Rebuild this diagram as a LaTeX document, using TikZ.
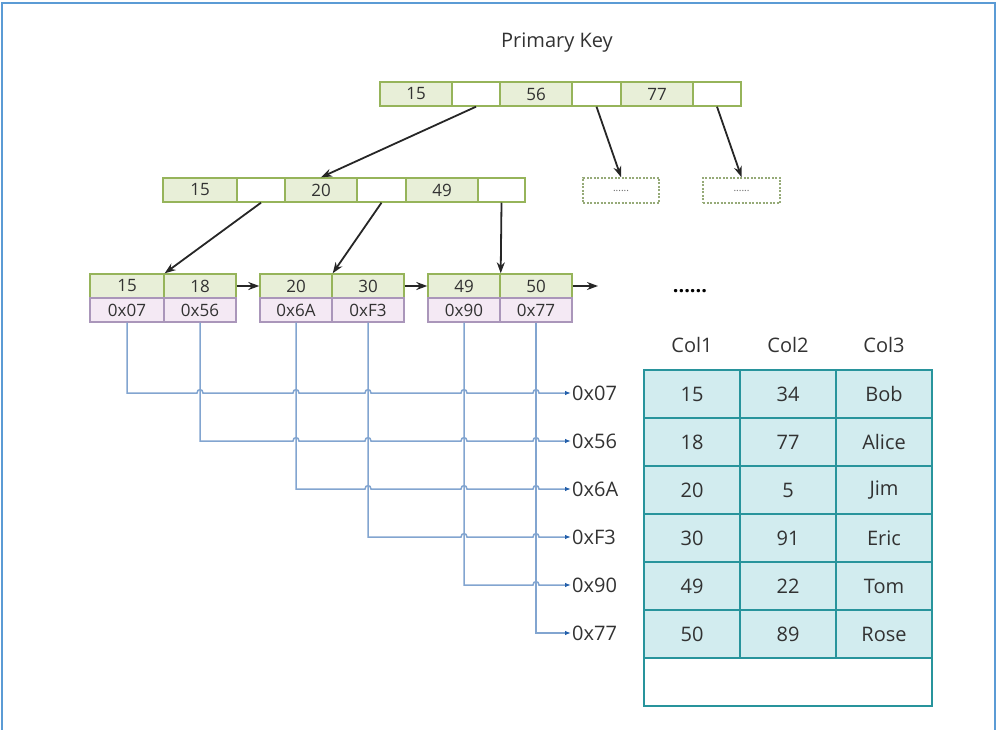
\documentclass[tikz,border=0pt]{standalone}
\usepackage{fontspec}
\setmainfont{Open Sans}
\usetikzlibrary{arrows.meta}
\definecolor{txt}{RGB}{50,50,50}
\definecolor{kfill}{RGB}{232,239,216}
\definecolor{kborder}{RGB}{150,180,90}
\definecolor{afill}{RGB}{244,233,244}
\definecolor{aborder}{RGB}{170,150,186}
\definecolor{tfill}{RGB}{210,236,239}
\definecolor{tborder}{RGB}{40,148,156}
\definecolor{aline}{RGB}{130,165,208}
\definecolor{ahead}{RGB}{35,95,170}
\definecolor{dcol}{RGB}{150,170,120}
\definecolor{framecol}{RGB}{91,155,213}
\begin{document}
\begin{tikzpicture}[x=1pt,y=-1pt,
  cellbase/.style={minimum height=24pt, inner sep=0pt, line width=1.4pt, font=\fontsize{17}{19}\selectfont, text=txt},
  kcell/.style={cellbase, draw=kborder, fill=kfill},
  pcell/.style={cellbase, draw=kborder, fill=white},
  acell/.style={cellbase, draw=aborder, fill=afill},
  tcell/.style={minimum width=96pt, minimum height=48pt, draw=tborder, fill=tfill, line width=2.4pt, inner sep=0pt, font=\fontsize{20}{23}\selectfont, text=txt},
  dbox/.style={draw=dcol, dash pattern=on 2pt off 1.5pt, line width=1.6pt, minimum height=25pt, inner sep=0pt, font=\fontsize{10}{11}\selectfont, text=black!60},
  tarrow/.style={-{Stealth[length=11pt,width=8pt]}, line width=1.8pt, draw=black!85},
  addr/.style={draw=aline, line width=1.5pt, -{Latex[length=6pt,width=4.5pt,color=ahead]}},
  lbl/.style={anchor=west, inner sep=1pt, font=\fontsize{20}{23}\selectfont, text=txt},
  hdr/.style={font=\fontsize{20}{23}\selectfont, text=txt, inner sep=0pt}]
\useasboundingbox (0,0) rectangle (998,730);
\draw[framecol, line width=2pt] (2,730) -- (2,3) -- (995,3) -- (995,730);

\node[hdr] (pk) at (557,43) {Primary Key};

% root
\node[kcell, minimum width=72pt] (r1) at (416,94) {15};
\node[pcell, minimum width=48pt] (r2) at (476,94) {};
\node[kcell, minimum width=72pt] (r3) at (536,94) {56};
\node[pcell, minimum width=49pt] (r4) at (596.5,94) {};
\node[kcell, minimum width=72pt] (r5) at (657,94) {77};
\node[pcell, minimum width=48pt] (r6) at (717,94) {};

% level 2
\node[kcell, minimum width=74pt] (m1) at (200,190) {15};
\node[pcell, minimum width=48pt] (m2) at (261,190) {};
\node[kcell, minimum width=72pt] (m3) at (321,190) {20};
\node[pcell, minimum width=49pt] (m4) at (381.5,190) {};
\node[kcell, minimum width=72pt] (m5) at (442,190) {49};
\node[pcell, minimum width=47pt] (m6) at (501.5,190) {};

\node[dbox, minimum width=76pt] (d1) at (621,190.5) {......};
\node[dbox, minimum width=77pt] (d2) at (741.5,190.5) {......};

% leaves
\node[kcell, minimum width=74pt] (k11) at (127,286) {15};
\node[kcell, minimum width=72pt] (k12) at (200,286) {18};
\node[acell, minimum width=74pt] (a11) at (127,310) {0x07};
\node[acell, minimum width=72pt] (a12) at (200,310) {0x56};
\node[kcell, minimum width=72pt] (k21) at (296,286) {20};
\node[kcell, minimum width=72pt] (k22) at (368,286) {30};
\node[acell, minimum width=72pt] (a21) at (296,310) {0x6A};
\node[acell, minimum width=72pt] (a22) at (368,310) {0xF3};
\node[kcell, minimum width=72pt] (k31) at (464,286) {49};
\node[kcell, minimum width=72pt] (k32) at (536,286) {50};
\node[acell, minimum width=72pt] (a31) at (464,310) {0x90};
\node[acell, minimum width=72pt] (a32) at (536,310) {0x77};
\coordinate (chainend) at (598,286);

\node[font=\fontsize{20}{23}\selectfont\bfseries, text=black] (dots) at (690,291) {......};

% tree arrows
\draw[tarrow] (r2.south) -- (m3.north);
\draw[tarrow] (r4.south) -- (d1.north);
\draw[tarrow] (r6.south) -- (d2.north);
\draw[tarrow] (m2.south) -- (k11.north east);
\draw[tarrow] (m4.south) -- (k21.north east);
\draw[tarrow] (m6.south) -- (k31.north east);
\draw[tarrow] (k12.east) -- (k21.west);
\draw[tarrow] (k22.east) -- (k31.west);
\draw[tarrow] (k32.east) -- (chainend);

% labels
\node[lbl] (l1) at (571,393) {0x07};
\node[lbl] (l2) at (571,441) {0x56};
\node[lbl] (l3) at (571,489) {0x6A};
\node[lbl] (l4) at (571,537) {0xF3};
\node[lbl] (l5) at (571,585) {0x90};
\node[lbl] (l6) at (571,633) {0x77};

% address lines with hops
\draw[addr] (a11.south) -- (127,393)
  -- (197,393) .. controls (197,388.5) and (203,388.5) .. (203,393)
  -- (293,393) .. controls (293,388.5) and (299,388.5) .. (299,393)
  -- (365,393) .. controls (365,388.5) and (371,388.5) .. (371,393)
  -- (461,393) .. controls (461,388.5) and (467,388.5) .. (467,393)
  -- (533,393) .. controls (533,388.5) and (539,388.5) .. (539,393)
  -- (l1.west);
\draw[addr] (a12.south) -- (200,441)
  -- (293,441) .. controls (293,436.5) and (299,436.5) .. (299,441)
  -- (365,441) .. controls (365,436.5) and (371,436.5) .. (371,441)
  -- (461,441) .. controls (461,436.5) and (467,436.5) .. (467,441)
  -- (533,441) .. controls (533,436.5) and (539,436.5) .. (539,441)
  -- (l2.west);
\draw[addr] (a21.south) -- (296,489)
  -- (365,489) .. controls (365,484.5) and (371,484.5) .. (371,489)
  -- (461,489) .. controls (461,484.5) and (467,484.5) .. (467,489)
  -- (533,489) .. controls (533,484.5) and (539,484.5) .. (539,489)
  -- (l3.west);
\draw[addr] (a22.south) -- (368,537)
  -- (461,537) .. controls (461,532.5) and (467,532.5) .. (467,537)
  -- (533,537) .. controls (533,532.5) and (539,532.5) .. (539,537)
  -- (l4.west);
\draw[addr] (a31.south) -- (464,585)
  -- (533,585) .. controls (533,580.5) and (539,580.5) .. (539,585)
  -- (l5.west);
\draw[addr] (a32.south) -- (536,633) -- (l6.west);

% table
\node[hdr] (h1) at (692,345) {Col1};
\node[hdr] (h2) at (788,345) {Col2};
\node[hdr] (h3) at (884,345) {Col3};
\foreach \va/\vb/\vc [count=\r] in {15/34/Bob, 18/77/Alice, 20/5/Jim, 30/91/Eric, 49/22/Tom, 50/89/Rose} {
  \node[tcell] (t\r a) at (692,346+48*\r) {\va};
  \node[tcell] (t\r b) at (788,346+48*\r) {\vb};
  \node[tcell] (t\r c) at (884,346+48*\r) {\vc};
}
\node[tcell, minimum width=288pt, fill=white] (tlast) at (788,682) {};
\end{tikzpicture}
\end{document}
